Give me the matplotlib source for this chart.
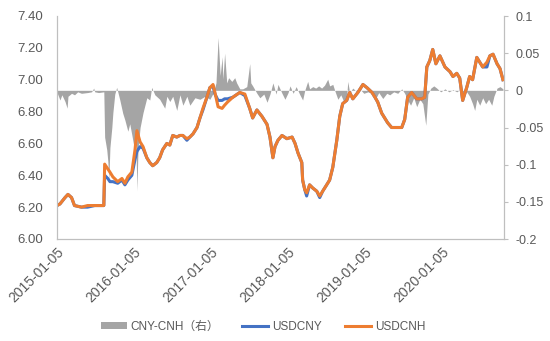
import numpy as np
import pandas as pd
import matplotlib
matplotlib.use('Agg')
import matplotlib.pyplot as plt
import matplotlib.dates as mdates
from matplotlib.ticker import FixedLocator, FuncFormatter

plt.rcParams['font.family'] = ['Liberation Sans', 'Noto Sans CJK SC']
plt.rcParams['axes.unicode_minus'] = False

# USDCNY / USDCNH
line_dates = ['2015-01-05', '2015-01-19', '2015-02-12', '2015-02-26', '2015-03-15', '2015-03-29',
              '2015-05-01', '2015-05-30', '2015-07-03', '2015-08-10', '2015-08-15', '2015-08-19',
              '2015-09-03', '2015-09-13', '2015-09-27', '2015-10-20', '2015-11-09', '2015-11-23',
              '2015-12-07', '2015-12-26', '2016-01-10', '2016-01-19', '2016-02-03', '2016-02-17',
              '2016-03-06', '2016-03-20', '2016-04-03', '2016-04-22', '2016-05-06', '2016-05-20',
              '2016-06-09', '2016-06-23', '2016-07-07', '2016-07-26', '2016-08-10', '2016-08-24',
              '2016-09-12', '2016-09-26', '2016-10-11', '2016-10-30', '2016-11-13', '2016-11-27',
              '2016-12-16', '2016-12-30', '2017-01-14', '2017-01-23', '2017-02-07', '2017-02-26',
              '2017-03-10', '2017-03-24', '2017-04-18', '2017-05-21', '2017-06-14', '2017-07-07',
              '2017-07-21', '2017-08-10', '2017-09-03', '2017-09-27', '2017-10-11', '2017-10-25',
              '2017-11-04', '2017-11-18', '2017-12-07', '2017-12-30', '2018-01-24', '2018-02-07',
              '2018-02-21', '2018-03-11', '2018-03-15', '2018-03-25', '2018-04-03', '2018-04-17',
              '2018-05-02', '2018-05-21', '2018-06-04', '2018-06-18', '2018-07-07', '2018-07-21',
              '2018-08-05', '2018-08-24', '2018-09-07', '2018-09-21', '2018-10-10', '2018-10-24',
              '2018-11-08', '2018-12-02', '2018-12-26', '2019-01-14', '2019-02-07', '2019-02-21',
              '2019-03-06', '2019-03-25', '2019-04-08', '2019-04-22', '2019-05-11', '2019-06-04',
              '2019-06-28', '2019-07-12', '2019-07-26', '2019-08-14', '2019-09-07', '2019-10-01',
              '2019-10-15', '2019-10-25', '2019-11-08', '2019-11-22', '2019-12-07', '2019-12-26',
              '2020-01-19', '2020-02-12', '2020-02-26', '2020-03-15', '2020-03-29', '2020-04-12',
              '2020-05-01', '2020-05-15', '2020-05-29', '2020-06-18', '2020-07-02', '2020-07-16',
              '2020-08-05', '2020-08-19', '2020-09-03', '2020-09-22', '2020-10-06', '2020-10-20']
usdcny = [6.21, 6.22, 6.26, 6.28, 6.26, 6.21,
          6.20, 6.20, 6.21, 6.21, 6.21, 6.40,
          6.38, 6.36, 6.36, 6.35, 6.37, 6.34,
          6.37, 6.40, 6.50, 6.55, 6.58, 6.57,
          6.51, 6.48, 6.46, 6.48, 6.51, 6.56,
          6.60, 6.59, 6.65, 6.64, 6.65, 6.65,
          6.62, 6.64, 6.66, 6.70, 6.76, 6.81,
          6.89, 6.95, 6.96, 6.91, 6.87, 6.87,
          6.88, 6.88, 6.89, 6.92, 6.90, 6.82,
          6.76, 6.81, 6.77, 6.72, 6.64, 6.51,
          6.58, 6.62, 6.65, 6.63, 6.64, 6.60,
          6.54, 6.48, 6.37, 6.31, 6.27, 6.34,
          6.32, 6.30, 6.26, 6.30, 6.34, 6.37,
          6.45, 6.62, 6.77, 6.85, 6.87, 6.92,
          6.88, 6.92, 6.97, 6.95, 6.92, 6.89,
          6.86, 6.79, 6.76, 6.73, 6.70, 6.70,
          6.70, 6.75, 6.89, 6.92, 6.88, 6.88,
          6.89, 7.08, 7.12, 7.19, 7.10, 7.15,
          7.08, 7.05, 7.02, 7.04, 7.01, 6.87,
          6.95, 7.02, 7.00, 7.14, 7.11, 7.08,
          7.08, 7.15, 7.16, 7.10, 7.07, 7.00]
usdcnh = [6.21, 6.22, 6.26, 6.28, 6.26, 6.21,
          6.20, 6.21, 6.21, 6.21, 6.21, 6.47,
          6.44, 6.42, 6.39, 6.36, 6.38, 6.35,
          6.39, 6.42, 6.56, 6.68, 6.61, 6.58,
          6.51, 6.48, 6.46, 6.48, 6.51, 6.56,
          6.60, 6.59, 6.65, 6.64, 6.65, 6.65,
          6.63, 6.64, 6.66, 6.70, 6.76, 6.82,
          6.89, 6.95, 6.97, 6.92, 6.83, 6.82,
          6.84, 6.86, 6.89, 6.92, 6.91, 6.82,
          6.76, 6.81, 6.77, 6.72, 6.64, 6.51,
          6.58, 6.62, 6.65, 6.63, 6.64, 6.60,
          6.54, 6.48, 6.37, 6.31, 6.29, 6.34,
          6.32, 6.30, 6.27, 6.30, 6.34, 6.37,
          6.45, 6.62, 6.77, 6.85, 6.87, 6.92,
          6.88, 6.92, 6.97, 6.95, 6.92, 6.89,
          6.86, 6.79, 6.76, 6.73, 6.70, 6.70,
          6.70, 6.75, 6.89, 6.92, 6.88, 6.88,
          6.89, 7.08, 7.12, 7.19, 7.10, 7.15,
          7.08, 7.05, 7.02, 7.04, 7.01, 6.87,
          6.95, 7.02, 7.00, 7.14, 7.11, 7.08,
          7.11, 7.15, 7.16, 7.10, 7.07, 7.00]

# CNY-CNH spread (right axis)
spread_dates = ['2015-01-05', '2015-01-08', '2015-01-19', '2015-01-28', '2015-02-12', '2015-02-22',
                '2015-02-26', '2015-03-15', '2015-03-29', '2015-04-13', '2015-05-01', '2015-05-30',
                '2015-06-18', '2015-06-28', '2015-07-03', '2015-07-21', '2015-08-15', '2015-08-19',
                '2015-08-29', '2015-09-03', '2015-09-08', '2015-09-13', '2015-09-22', '2015-09-27',
                '2015-10-06', '2015-10-15', '2015-10-30', '2015-11-13', '2015-11-23', '2015-12-07',
                '2015-12-16', '2015-12-26', '2016-01-05', '2016-01-14', '2016-01-19', '2016-01-24',
                '2016-02-03', '2016-02-17', '2016-03-06', '2016-03-20', '2016-03-29', '2016-04-13',
                '2016-05-06', '2016-05-30', '2016-06-09', '2016-06-23', '2016-07-07', '2016-07-26',
                '2016-08-10', '2016-08-24', '2016-09-12', '2016-09-26', '2016-10-20', '2016-11-13',
                '2016-12-07', '2016-12-30', '2017-01-14', '2017-01-28', '2017-02-07', '2017-02-17',
                '2017-02-26', '2017-03-02', '2017-03-10', '2017-03-20', '2017-03-29', '2017-04-13',
                '2017-04-27', '2017-05-06', '2017-05-21', '2017-06-04', '2017-06-23', '2017-07-07',
                '2017-07-12', '2017-07-21', '2017-08-10', '2017-08-24', '2017-09-12', '2017-09-27',
                '2017-10-11', '2017-10-25', '2017-11-09', '2017-11-18', '2017-12-07', '2017-12-21',
                '2018-01-05', '2018-01-14', '2018-01-29', '2018-02-12', '2018-03-02', '2018-03-15',
                '2018-03-25', '2018-04-08', '2018-04-17', '2018-05-02', '2018-05-16', '2018-05-30',
                '2018-06-13', '2018-06-27', '2018-07-12', '2018-07-21', '2018-08-05', '2018-08-14',
                '2018-08-29', '2018-09-12', '2018-09-26', '2018-10-10', '2018-10-15', '2018-10-24',
                '2018-11-08', '2018-11-27', '2018-12-11', '2018-12-30', '2019-01-19', '2019-02-07',
                '2019-02-26', '2019-03-11', '2019-03-30', '2019-04-18', '2019-05-02', '2019-05-21',
                '2019-06-09', '2019-06-28', '2019-07-12', '2019-07-26', '2019-08-09', '2019-08-24',
                '2019-09-07', '2019-09-22', '2019-10-06', '2019-10-20', '2019-10-30', '2019-11-13',
                '2019-11-27', '2019-12-11', '2019-12-30', '2020-01-19', '2020-02-07', '2020-02-26',
                '2020-03-15', '2020-04-03', '2020-04-17', '2020-05-01', '2020-05-15', '2020-05-29',
                '2020-06-08', '2020-06-18', '2020-07-02', '2020-07-16', '2020-07-30', '2020-08-13',
                '2020-08-28', '2020-09-07', '2020-09-22', '2020-10-06', '2020-10-20']
cny_cnh = [0.0, -0.005, -0.013, -0.006, -0.015, -0.024,
           -0.008, -0.004, -0.006, -0.002, -0.004, -0.003,
           -0.002, 0.003, -0.002, -0.003, -0.002, -0.063,
           -0.080, -0.095, -0.12, -0.077, -0.05, -0.03,
           -0.005, 0.004, -0.013, -0.031, -0.04, -0.055,
           -0.045, -0.06, -0.076, -0.07, -0.135, -0.08,
           -0.05, -0.03, -0.01, -0.013, 0.004, -0.006,
           -0.012, -0.024, -0.008, -0.015, -0.008, -0.027,
           -0.006, -0.02, -0.008, -0.02, -0.01, -0.012,
           -0.008, -0.012, -0.004, 0.01, 0.071, 0.02,
           0.045, 0.015, 0.05, 0.01, 0.017, 0.012,
           0.017, 0.01, 0.002, 0.002, 0.005, 0.036,
           0.01, 0.006, -0.004, -0.01, -0.005, -0.016,
           -0.005, 0.01, -0.005, 0.008, -0.004, -0.012,
           -0.003, 0.006, -0.004, 0.005, -0.006, -0.013,
           0.0, 0.012, 0.002, 0.005, 0.003, 0.006,
           0.003, 0.007, 0.015, 0.006, 0.008, 0.0,
           -0.012, -0.006, -0.015, -0.008, 0.012, -0.003,
           0.003, -0.002, 0.002, -0.004, -0.002, -0.004,
           -0.01, -0.003, -0.011, -0.004, -0.006, -0.002,
           -0.004, 0.002, -0.004, -0.013, -0.02, -0.01,
           -0.022, -0.012, -0.018, -0.047, -0.005, 0.003,
           0.006, 0.003, -0.002, 0.002, -0.002, 0.001,
           -0.002, 0.002, -0.004, -0.002, -0.008, -0.018,
           -0.027, -0.012, -0.02, -0.01, -0.018, -0.012,
           -0.02, -0.008, 0.003, 0.005, 0.002]

left_ticks = [6.0, 6.2, 6.4, 6.6, 6.8, 7.0, 7.2, 7.4]
right_ticks = [-0.2, -0.15, -0.1, -0.05, 0, 0.05, 0.1]
x_ticks = ['2015-01-05', '2016-01-05', '2017-01-05', '2018-01-05', '2019-01-05', '2020-01-05']

ld = pd.to_datetime(line_dates)
sd = pd.to_datetime(spread_dates)

fig = plt.figure(figsize=(5.5, 3.41), dpi=100)
ax = fig.add_axes([57/550, 1-239/341, (504-57)/550, 223/341])
ax2 = ax.twinx()
ax.set_zorder(ax2.get_zorder() + 1)
ax.patch.set_visible(False)

ax2.fill_between(sd, 0, cny_cnh, color='#A5A5A5', lw=0, label='CNY-CNH（右）')
ax.plot(ld, usdcny, color='#4472C4', lw=2.2, label='USDCNY')
ax.plot(ld, usdcnh, color='#ED7D31', lw=2.2, label='USDCNH')

ax.set_ylim(6.0, 7.4)
ax2.set_ylim(-0.2, 0.1)
ax.set_xlim(pd.Timestamp('2015-01-05'), pd.Timestamp('2020-10-25'))

ax.yaxis.set_major_locator(FixedLocator(left_ticks))
ax.yaxis.set_major_formatter(FuncFormatter(lambda v, p: '%.2f' % v))
ax2.yaxis.set_major_locator(FixedLocator(right_ticks))
ax2.yaxis.set_major_formatter(FuncFormatter(lambda v, p: '%g' % v))
ax.set_xticks(pd.to_datetime(x_ticks))
ax.xaxis.set_major_formatter(mdates.DateFormatter('%Y-%m-%d'))

for a in (ax, ax2):
    for s in a.spines.values():
        s.set_color('#BFBFBF')
        s.set_linewidth(0.8)
    a.spines['top'].set_visible(False)
ax.tick_params(axis='y', length=0, pad=10, labelsize=9.5, labelcolor='#595959')
ax.tick_params(axis='x', length=0, pad=4, labelsize=10, labelcolor='#595959')
ax2.tick_params(axis='y', length=3, color='#BFBFBF', pad=5, labelsize=9, labelcolor='#595959')
for lab in ax.get_xticklabels():
    lab.set_rotation(45)
    lab.set_ha('right')
    lab.set_rotation_mode('anchor')

h2, l2 = ax2.get_legend_handles_labels()
h1, l1 = ax.get_legend_handles_labels()
fig.legend(h2 + h1, l2 + l1, loc='center', bbox_to_anchor=(263/550, 1-327/341), ncol=3,
           frameon=False, fontsize=8.5, handlelength=2.2, handleheight=0.5, handletextpad=0.3,
           columnspacing=2.0, labelcolor='#595959')

fig.savefig('out.png', dpi=100)
